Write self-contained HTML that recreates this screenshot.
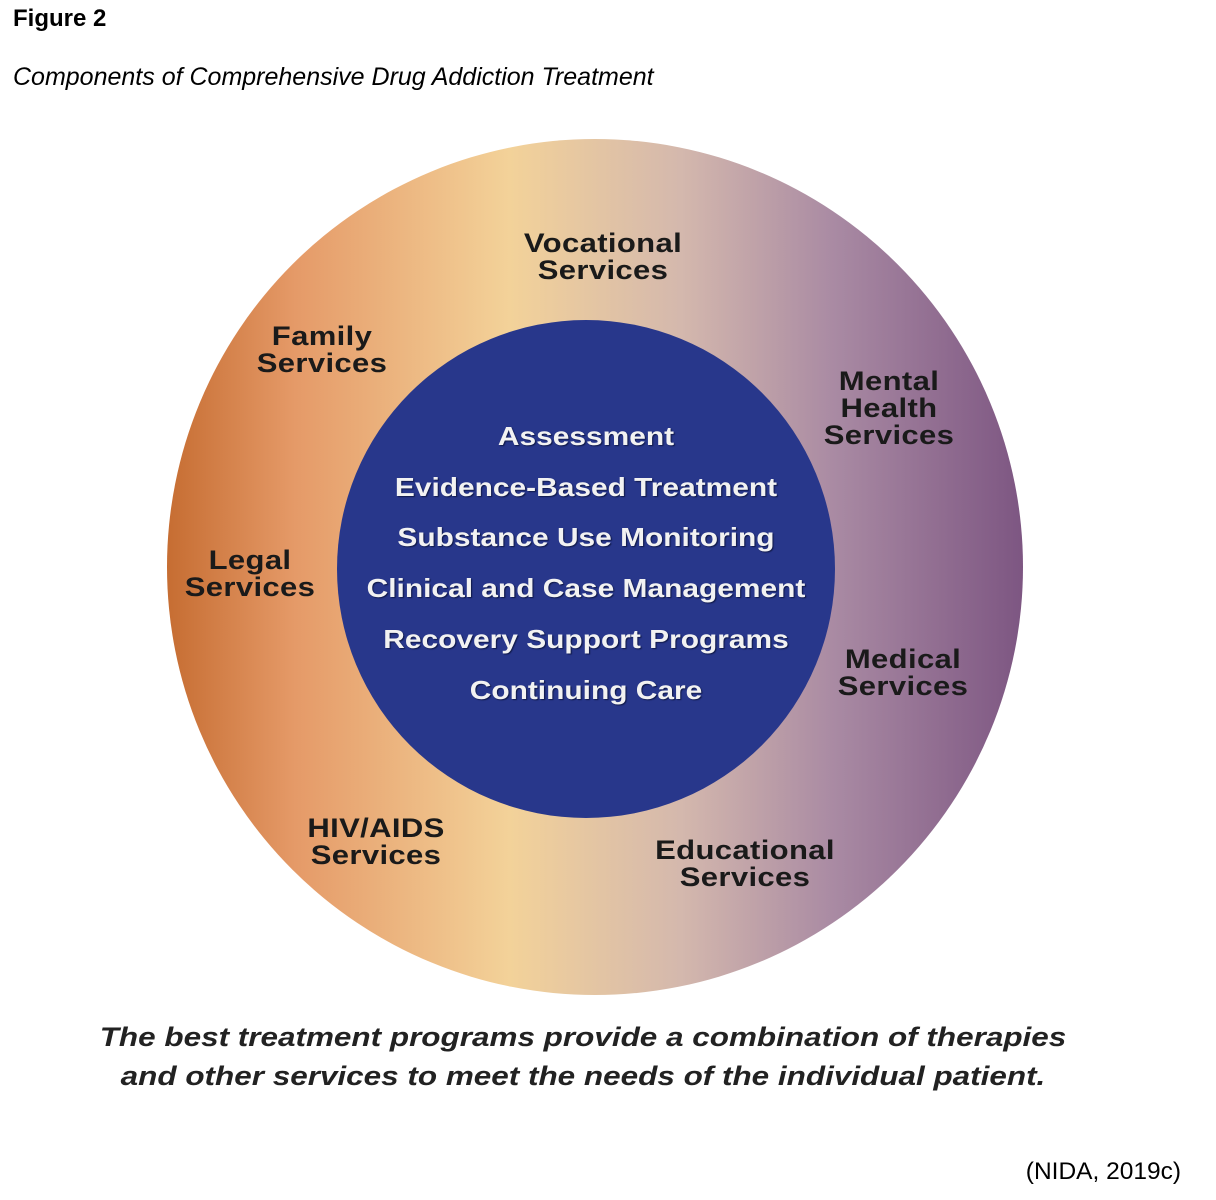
<!DOCTYPE html>
<html><head><meta charset="utf-8"><style>
html,body{margin:0;padding:0;background:#fff;}
body{width:1216px;height:1200px;position:relative;overflow:hidden;font-family:"Liberation Sans",sans-serif;}
.t{position:absolute;white-space:nowrap;}
.lab{position:absolute;width:400px;text-align:center;font-weight:bold;font-size:27px;line-height:27px;color:#1a1a1a;letter-spacing:0.3px;transform:scaleX(1.15);transform-origin:center;}
.in{position:absolute;left:336px;width:500px;text-align:center;font-weight:bold;font-size:26px;line-height:30px;color:#f2f2f2;text-shadow:1px 1px 1px #111a4a;transform:scaleX(1.15);transform-origin:center;}
</style></head><body>
<div class="t" style="left:13px;top:5px;font-size:24px;font-weight:bold;">Figure 2</div>
<div class="t" style="left:13px;top:63px;font-size:25px;font-style:italic;">Components of Comprehensive Drug Addiction Treatment</div>
<svg style="position:absolute;left:0;top:0" width="1216" height="1200">
<defs><linearGradient id="g" x1="167" y1="0" x2="1023" y2="0" gradientUnits="userSpaceOnUse">
<stop offset="0" stop-color="#c66d32"/>
<stop offset="0.15" stop-color="#e59a68"/>
<stop offset="0.4" stop-color="#f3d299"/>
<stop offset="0.6" stop-color="#d4b8ad"/>
<stop offset="0.78" stop-color="#a98aa3"/>
<stop offset="1" stop-color="#7d5682"/>
</linearGradient></defs>
<circle cx="595" cy="567" r="428" fill="url(#g)"/>
<circle cx="586" cy="569" r="249" fill="#28378b"/>
</svg>
<div class="lab" style="left:403px;top:230px;">Vocational<br>Services</div>
<div class="lab" style="left:122px;top:323px;">Family<br>Services</div>
<div class="lab" style="left:689px;top:368px;">Mental<br>Health<br>Services</div>
<div class="lab" style="left:50px;top:547px;">Legal<br>Services</div>
<div class="lab" style="left:703px;top:646px;">Medical<br>Services</div>
<div class="lab" style="left:176px;top:815px;">HIV/AIDS<br>Services</div>
<div class="lab" style="left:545px;top:837px;">Educational<br>Services</div>
<div class="in" style="top:421px;">Assessment</div>
<div class="in" style="top:472px;">Evidence-Based Treatment</div>
<div class="in" style="top:522px;">Substance Use Monitoring</div>
<div class="in" style="top:573px;">Clinical and Case Management</div>
<div class="in" style="top:624px;">Recovery Support Programs</div>
<div class="in" style="top:675px;">Continuing Care</div>
<div class="t" style="left:83px;width:1000px;text-align:center;top:1018px;font-size:27px;line-height:39px;font-weight:bold;font-style:italic;color:#222;transform:scaleX(1.165);transform-origin:center;">The best treatment programs provide a combination of therapies<br>and other services to meet the needs of the individual patient.</div>
<div class="t" style="right:35px;top:1158px;font-size:24.5px;">(NIDA, 2019c)</div>
</body></html>
